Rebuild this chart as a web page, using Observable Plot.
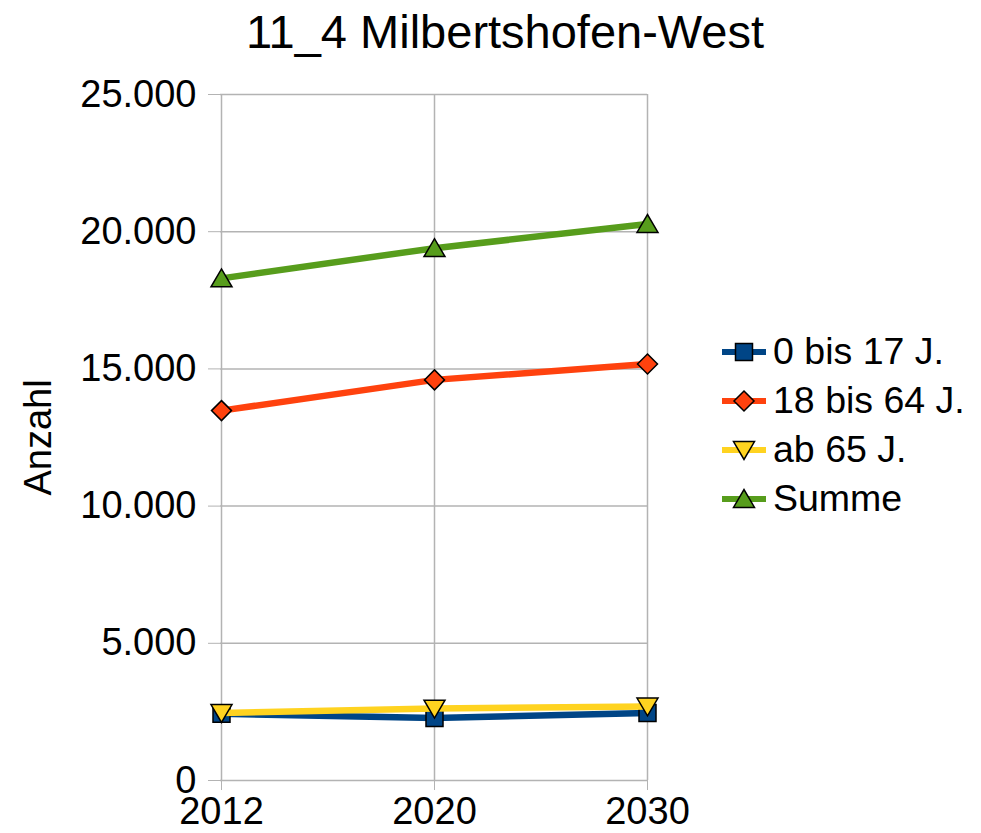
<!DOCTYPE html>
<html>
<head>
<meta charset="utf-8">
<script src="https://cdn.jsdelivr.net/npm/d3@7"></script>
<script src="https://cdn.jsdelivr.net/npm/@observablehq/plot@0.6"></script>
<style>
  html, body { margin: 0; padding: 0; background: #fff; }
  #wrap { position: relative; width: 981px; height: 833px; font-family: "Liberation Sans", Arial, sans-serif; overflow: hidden; }
  #title { position: absolute; top: 8px; left: 505px; transform: translateX(-50%); font-size: 47px; line-height: 47px; white-space: nowrap; color: #000; }
  #legend { position: absolute; left: 722px; top: 327px; font-size: 37.5px; color: #000; }
  .row { display: flex; align-items: center; height: 49px; }
  .row svg { margin-right: 7px; }
</style>
</head>
<body>
<div id="wrap">
  <div id="chart"></div>
  <div id="title">11_4 Milbertshofen-West</div>
  <div id="legend"></div>
</div>
<script>
// ---- data ----
const years = ["2012", "2020", "2030"];
const seriesNames = ["0 bis 17 J.", "18 bis 64 J.", "ab 65 J.", "Summe"];
const v0bis17 = [2430, 2280, 2460];
const v18bis64 = [13480, 14600, 15180];
const vab65 = [2460, 2620, 2700];
const vSumme = [18300, 19400, 20280];
const yTicks = [0, 5000, 10000, 15000, 20000, 25000];
const colors = ["#004586", "#ff420e", "#ffd320", "#579d1c"];

// ---- symbols ----
const rad = s => Math.sqrt(s / Math.PI);
const symSquare = { draw(c, s) { const r = rad(s); c.rect(-r, -r, 2 * r, 2 * r); } };
const symDiamond = { draw(c, s) { const r = rad(s); c.moveTo(0, -r); c.lineTo(r, 0); c.lineTo(0, r); c.lineTo(-r, 0); c.closePath(); } };
const symTriDown = { draw(c, s) { const r = rad(s); c.moveTo(-r, -0.8 * r); c.lineTo(r, -0.8 * r); c.lineTo(0, 0.9 * r); c.closePath(); } };
const symTriUp = { draw(c, s) { const r = rad(s); c.moveTo(-r, 0.8 * r); c.lineTo(r, 0.8 * r); c.lineTo(0, -0.9 * r); c.closePath(); } };
const symbols = [symSquare, symDiamond, symTriDown, symTriUp];
const radii = [8.5, 10, 10.5, 10.5];

const allValues = [v0bis17, v18bis64, vab65, vSumme];
const series = seriesNames.map((name, i) => ({
  name, color: colors[i], symbol: symbols[i], r: radii[i],
  rows: years.map((year, j) => ({ year, value: allValues[i][j], name }))
}));

const fmt = d3.formatLocale({ decimal: ",", thousands: ".", grouping: [3], currency: ["", "€"] }).format(",");

const marks = [
  Plot.gridX(years, { stroke: "#b3b3b3", strokeOpacity: 1, strokeWidth: 1.5 }),
  Plot.gridY(yTicks, { stroke: "#b3b3b3", strokeOpacity: 1, strokeWidth: 1.5 }),
  Plot.axisY(yTicks, { tickFormat: fmt, tickSize: 12, tickPadding: 12, stroke: "#b3b3b3", fill: "#000", fontSize: 38,
    label: "Anzahl", labelAnchor: "center", labelArrow: "none", labelOffset: 196 }),
  Plot.axisX(years, { tickSize: 10, tickPadding: 7, stroke: "#b3b3b3", fill: "#000", fontSize: 38, label: null })
];
for (const s of series) {
  marks.push(Plot.line(s.rows, { x: "year", y: "value", stroke: s.color, strokeWidth: 6.5 }));
  marks.push(Plot.dot(s.rows, { x: "year", y: "value", symbol: s.symbol, r: s.r, fill: s.color, stroke: "#000", strokeWidth: 1.5 }));
}

const chart = Plot.plot({
  width: 981, height: 833,
  marginLeft: 220, marginRight: 334, marginTop: 94, marginBottom: 53,
  style: { fontFamily: "'Liberation Sans', Arial, sans-serif", fontSize: "38px", color: "#000", background: "#fff", overflow: "visible" },
  x: { type: "point", domain: years, padding: 0 },
  y: { domain: [0, 25000] },
  marks
});
document.getElementById("chart").appendChild(chart);

// ---- legend ----
const legend = d3.select("#legend");
series.forEach(s => {
  const row = legend.append("div").attr("class", "row");
  const svg = row.append("svg").attr("width", 44).attr("height", 30);
  svg.append("line").attr("x1", 0).attr("x2", 44).attr("y1", 15).attr("y2", 15)
    .attr("stroke", s.color).attr("stroke-width", 6);
  svg.append("path").attr("transform", "translate(22,15)")
    .attr("d", d3.symbol(s.symbol, Math.PI * s.r * s.r)())
    .attr("fill", s.color).attr("stroke", "#000").attr("stroke-width", 1.5);
  row.append("span").text(s.name);
});
</script>
</body>
</html>
